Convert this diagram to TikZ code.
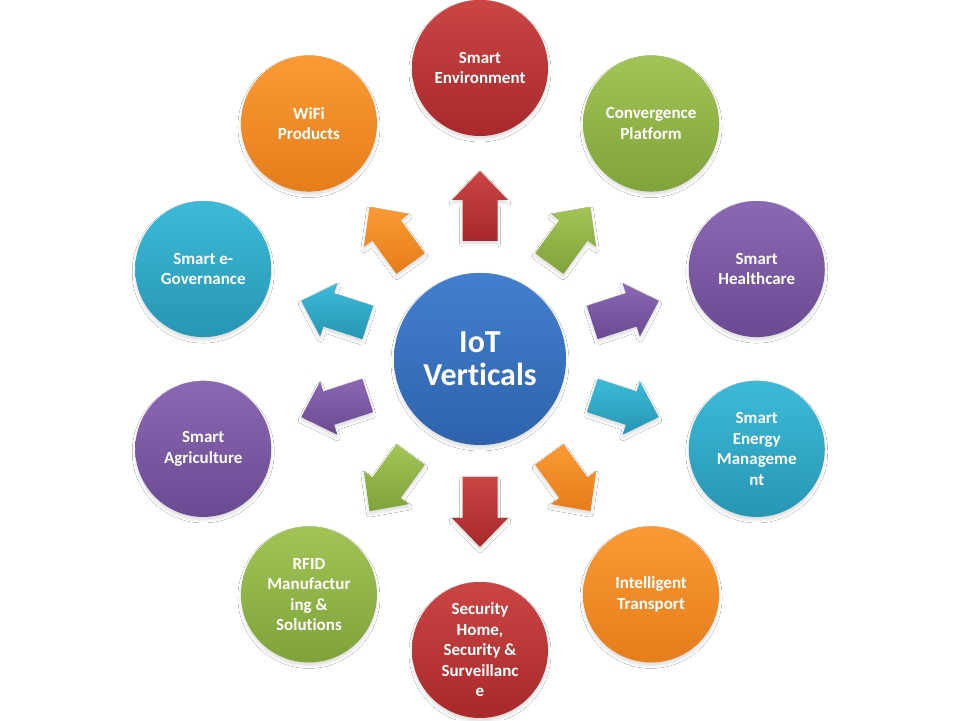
\documentclass[tikz,border=0pt]{standalone}
\usepackage{fontspec}
\setmainfont{Carlito}[Ligatures=NoCommon]
\usetikzlibrary{shadows.blur}
\definecolor{redT}{HTML}{CB4544}
\definecolor{redB}{HTML}{A8282B}
\definecolor{greenT}{HTML}{A2C457}
\definecolor{greenB}{HTML}{7FA33A}
\definecolor{purpleT}{HTML}{8B68B3}
\definecolor{purpleB}{HTML}{6A4A93}
\definecolor{cyanT}{HTML}{3DBAD9}
\definecolor{cyanB}{HTML}{2696B3}
\definecolor{orangeT}{HTML}{FB9A35}
\definecolor{orangeB}{HTML}{E57D1A}
\definecolor{blueT}{HTML}{437FCF}
\definecolor{blueB}{HTML}{2E63AC}
\begin{document}
\begin{tikzpicture}[x=1pt,y=1pt,
  softshadow/.style={blur shadow={shadow xshift=0pt, shadow yshift=-3pt, shadow blur radius=3pt, shadow opacity=14}},
  outercircle/.style={circle, minimum size=136pt, inner sep=0pt, align=center, text=white,
    font=\fontsize{17}{20.5}\selectfont\bfseries, softshadow},
  hubcircle/.style={circle, minimum size=172pt, inner sep=0pt, align=center, text=white,
    font=\fontsize{32}{33}\selectfont\bfseries, softshadow, top color=blueT, bottom color=blueB},
  blockarrow/.style={softshadow}]
\fill[white] (0,0) rectangle (960,720);
\useasboundingbox (0,0) rectangle (960,720);
\coordinate (c) at (480,361);
\node[hubcircle] (hub) at (c) {IoT\\Verticals};
\foreach \a/\col/\txt [count=\i] in {
  90/red/{Smart\\Environment},
  54/green/{Convergence\\Platform},
  18/purple/{Smart\\Healthcare},
  -18/cyan/{Smart\\Energy\\Manageme\\nt},
  -54/orange/{Intelligent\\Transport},
  -90/red/{Security\\Home,\\Security \&\\Surveillanc\\e},
  -126/green/{RFID\\Manufactur\\ing \&\\Solutions},
  -162/purple/{Smart\\Agriculture},
  162/cyan/{Smart e-\\Governance},
  126/orange/{WiFi\\Products}}{
  \node[outercircle, top color=\col T, bottom color=\col B] (n\i) at ($(c)+(\a:291)$) {\txt};
  \begin{scope}[shift={(c)}, rotate=\a]
    \shade[blockarrow, top color=\col T, bottom color=\col B]
      (118,-17.5) -- (159,-17.5) -- (159,-28) -- (188,0) -- (159,28) -- (159,17.5) -- (118,17.5) -- cycle;
  \end{scope}
}
\end{tikzpicture}
\end{document}
